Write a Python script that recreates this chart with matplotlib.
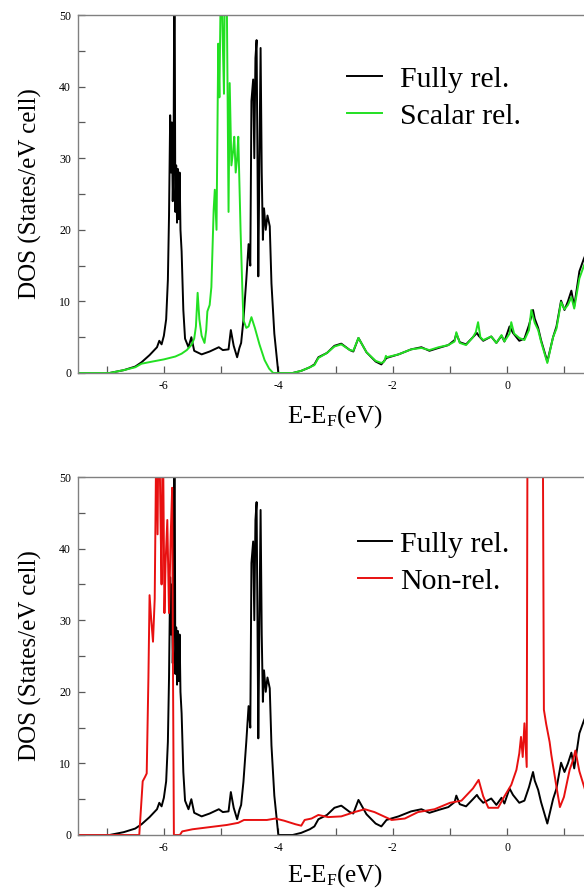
import matplotlib
matplotlib.use("Agg")
import matplotlib.pyplot as plt
from matplotlib.ticker import MultipleLocator, FixedLocator
import numpy as np

plt.rcParams['font.family'] = ['Liberation Serif', 'DejaVu Serif']
plt.rcParams['mathtext.default'] = 'regular'
plt.rcParams['axes.unicode_minus'] = False

# fully relativistic DOS (same curve in both panels)
fully_e = [-7.5, -6.95, -6.7, -6.5, -6.39, -6.25, -6.12, -6.08, -6.04, -6.0,
           -5.96, -5.93, -5.91, -5.89, -5.875, -5.86, -5.845, -5.83, -5.815, -5.80,
           -5.785, -5.77, -5.755, -5.74, -5.725, -5.71, -5.69, -5.66, -5.63, -5.57,
           -5.52, -5.47, -5.34, -5.2, -5.04, -4.97, -4.87, -4.83, -4.78, -4.72,
           -4.68, -4.65, -4.61, -4.56, -4.52, -4.49, -4.47, -4.44, -4.42, -4.40,
           -4.38, -4.36, -4.35, -4.33, -4.31, -4.29, -4.27, -4.25, -4.22, -4.19,
           -4.15, -4.12, -4.07, -4.0, -3.75, -3.6, -3.45, -3.37, -3.3, -3.15,
           -3.02, -2.9, -2.75, -2.69, -2.6, -2.46, -2.3, -2.2, -2.11, -1.9,
           -1.68, -1.5, -1.36, -1.2, -1.03, -0.92, -0.89, -0.83, -0.72, -0.6,
           -0.53, -0.5, -0.42, -0.28, -0.19, -0.1, -0.05, 0.04, 0.1, 0.21,
           0.3, 0.38, 0.45, 0.48, 0.54, 0.59, 0.7, 0.8, 0.86, 0.94,
           1.0, 1.06, 1.12, 1.17, 1.26, 1.34, 1.45, 1.6]
fully_dos = [0, 0, 0.4, 0.9, 1.5, 2.5, 3.6, 4.5, 4.0, 5.2,
             7.5, 13, 22, 36, 28, 35, 24, 30, 64, 22.5,
             29, 21, 28.5, 21.5, 28, 20, 17, 8.8, 4.8, 3.6,
             5.0, 3.1, 2.6, 3.0, 3.6, 3.2, 3.3, 6.0, 3.8, 2.2,
             3.5, 4.2, 7.4, 13, 18, 15, 38, 41, 30, 44,
             46.5, 25, 13.5, 30, 45.4, 28, 18.6, 23, 20, 22,
             20.5, 12.5, 5.5, 0, 0, 0.3, 0.8, 1.2, 2.2, 2.8,
             3.8, 4.1, 3.2, 3.0, 4.9, 2.9, 1.6, 1.2, 2.1, 2.6,
             3.3, 3.6, 3.1, 3.5, 3.9, 4.6, 5.5, 4.3, 4.0, 5.0,
             5.6, 5.2, 4.5, 5.1, 4.2, 5.2, 4.4, 6.5, 5.6, 4.5,
             4.8, 6.7, 8.8, 7.6, 6.3, 4.6, 1.6, 5.0, 6.5, 10.1,
             8.8, 10.0, 11.5, 9.3, 14.2, 16.0, 18, 20]

# scalar relativistic DOS
scalar_e = [-7.5, -6.95, -6.7, -6.5, -6.39, -6.2, -6.0, -5.8, -5.69, -5.6,
            -5.52, -5.47, -5.44, -5.41, -5.38, -5.34, -5.29, -5.26, -5.24, -5.2,
            -5.17, -5.13, -5.11, -5.08, -5.05, -5.03, -5.0, -4.97, -4.95, -4.93,
            -4.9, -4.87, -4.85, -4.82, -4.79, -4.77, -4.745, -4.72, -4.70, -4.66,
            -4.63, -4.61, -4.56, -4.52, -4.47, -4.41, -4.33, -4.24, -4.16, -4.09,
            -3.75, -3.6, -3.45, -3.37, -3.3, -3.15, -3.02, -2.9, -2.75, -2.69,
            -2.6, -2.46, -2.3, -2.2, -2.15, -2.12, -2.11, -1.9, -1.68, -1.5,
            -1.36, -1.2, -1.03, -0.92, -0.89, -0.83, -0.72, -0.6, -0.55, -0.51,
            -0.47, -0.42, -0.28, -0.19, -0.1, -0.05, 0.04, 0.07, 0.12, 0.21,
            0.3, 0.38, 0.42, 0.48, 0.54, 0.59, 0.7, 0.8, 0.86, 0.94,
            1.0, 1.06, 1.12, 1.17, 1.26, 1.34, 1.45, 1.6]
scalar_dos = [0, 0, 0.4, 0.8, 1.3, 1.6, 1.9, 2.3, 2.7, 3.2,
              3.9, 4.8, 6.5, 11.2, 7.5, 5.2, 4.2, 6.0, 8.6, 9.5,
              12, 22.8, 25.6, 20, 46, 38.5, 58, 46, 39, 60,
              52, 22.5, 40.5, 29, 31, 33, 28, 30, 33, 20,
              12, 7.4, 6.3, 6.5, 7.8, 6.3, 4.0, 1.8, 0.6, 0,
              0, 0.3, 0.8, 1.1, 2.1, 2.8, 3.7, 4.0, 3.2, 3.1,
              4.9, 2.9, 1.7, 1.4, 1.6, 2.4, 2.2, 2.6, 3.3, 3.5,
              3.2, 3.6, 3.9, 4.4, 5.7, 4.2, 3.9, 5.0, 5.7, 7.1,
              5.0, 4.6, 5.1, 4.2, 5.3, 4.4, 5.5, 7.1, 5.5, 4.9,
              4.6, 6.0, 8.8, 7.0, 6.0, 4.4, 1.4, 5.0, 6.2, 9.9,
              8.9, 9.5, 10.6, 9.0, 13.2, 15.0, 17, 19]

# non relativistic DOS
nonrel_e = [-7.5, -6.43, -6.37, -6.33, -6.30, -6.27, -6.25, -6.22, -6.19, -6.16,
            -6.13, -6.11, -6.09, -6.06, -6.04, -6.02, -5.99, -5.97, -5.94, -5.91,
            -5.88, -5.855, -5.84, -5.825, -5.72, -5.68, -5.5, -5.2, -4.9, -4.7,
            -4.6, -4.2, -4.05, -3.9, -3.7, -3.6, -3.54, -3.42, -3.3, -3.13,
            -2.9, -2.67, -2.49, -2.32, -2.02, -1.79, -1.56, -1.27, -1.0, -0.8,
            -0.6, -0.5, -0.42, -0.33, -0.16, -0.05, 0.07, 0.16, 0.21, 0.24,
            0.27, 0.3, 0.34, 0.36, 0.61, 0.64, 0.68, 0.74, 0.77, 0.86,
            0.92, 0.99, 1.09, 1.15, 1.19, 1.26, 1.36, 1.5, 1.6]
nonrel_dos = [0, 0, 7.5, 8.1, 8.6, 22, 33.5, 30, 27, 33,
              58, 42, 62, 45, 35, 60, 31, 38, 44, 31,
              42, 48.5, 22, 0, 0, 0.5, 0.8, 1.1, 1.4, 1.7,
              2.1, 2.1, 2.3, 2.0, 1.5, 1.3, 2.1, 2.3, 2.8, 2.5,
              2.6, 3.2, 3.6, 3.2, 2.1, 2.3, 3.2, 3.6, 4.5, 4.8,
              6.5, 7.7, 5.4, 3.8, 3.8, 5.4, 7.0, 9.1, 11.4, 13.7,
              10.9, 15.6, 9.5, 80, 80, 17.5, 15.5, 13, 11.2, 6.7,
              3.9, 5.3, 9.1, 10.5, 11.8, 8.9, 6.3, 7, 8]

major_x = [-6, -4, -2, 0]
minor_x = [-7, -5, -3, -1, 1]

fig = plt.figure(figsize=(5.84, 8.9), dpi=100)
ax1 = fig.add_axes([0.1336, 0.5809, 0.882, 0.4022])
ax2 = fig.add_axes([0.1336, 0.0618, 0.882, 0.4022])

ax1.plot(fully_e, fully_dos, color='black', lw=1.4, label='Fully rel.')
ax1.plot(scalar_e, scalar_dos, color='#22e022', lw=1.4, label='Scalar rel.')
ax2.plot(fully_e, fully_dos, color='black', lw=1.4, label='Fully rel.')
ax2.plot(nonrel_e, nonrel_dos, color='#e81010', lw=1.4, label='Non-rel.')

for ax in (ax1, ax2):
    ax.set_xlim(-7.5, 1.5)
    ax.set_ylim(0, 50)
    ax.xaxis.set_major_locator(FixedLocator(major_x))
    ax.xaxis.set_minor_locator(FixedLocator(minor_x))
    ax.yaxis.set_major_locator(MultipleLocator(10))
    ax.yaxis.set_minor_locator(MultipleLocator(5))
    ax.tick_params(which='both', direction='in', length=5, width=0.9,
                   color='0.35', labelsize=8.5, pad=5)
    for s in ax.spines.values():
        s.set_color('0.5')
        s.set_linewidth(1.0)
    ax.set_ylabel('DOS (States/eV cell)', fontsize=18, labelpad=12)

ax1.set_xlabel('E-E$_F$(eV)', fontsize=18, labelpad=8)
ax2.set_xlabel('E-E$_F$(eV)', fontsize=18, labelpad=6)

ax1.legend(loc='upper left', bbox_to_anchor=(0.594, 0.9258), bbox_transform=fig.transFigure,
           frameon=False, fontsize=21.5, handlelength=1.17, handletextpad=0.6,
           labelspacing=0.33, borderpad=0, borderaxespad=0)
ax2.legend(loc='upper left', bbox_to_anchor=(0.613, 0.4034), bbox_transform=fig.transFigure,
           frameon=False, fontsize=21.5, handlelength=1.14, handletextpad=0.27,
           labelspacing=0.33, borderpad=0, borderaxespad=0)

fig.savefig('out.png', dpi=100)
